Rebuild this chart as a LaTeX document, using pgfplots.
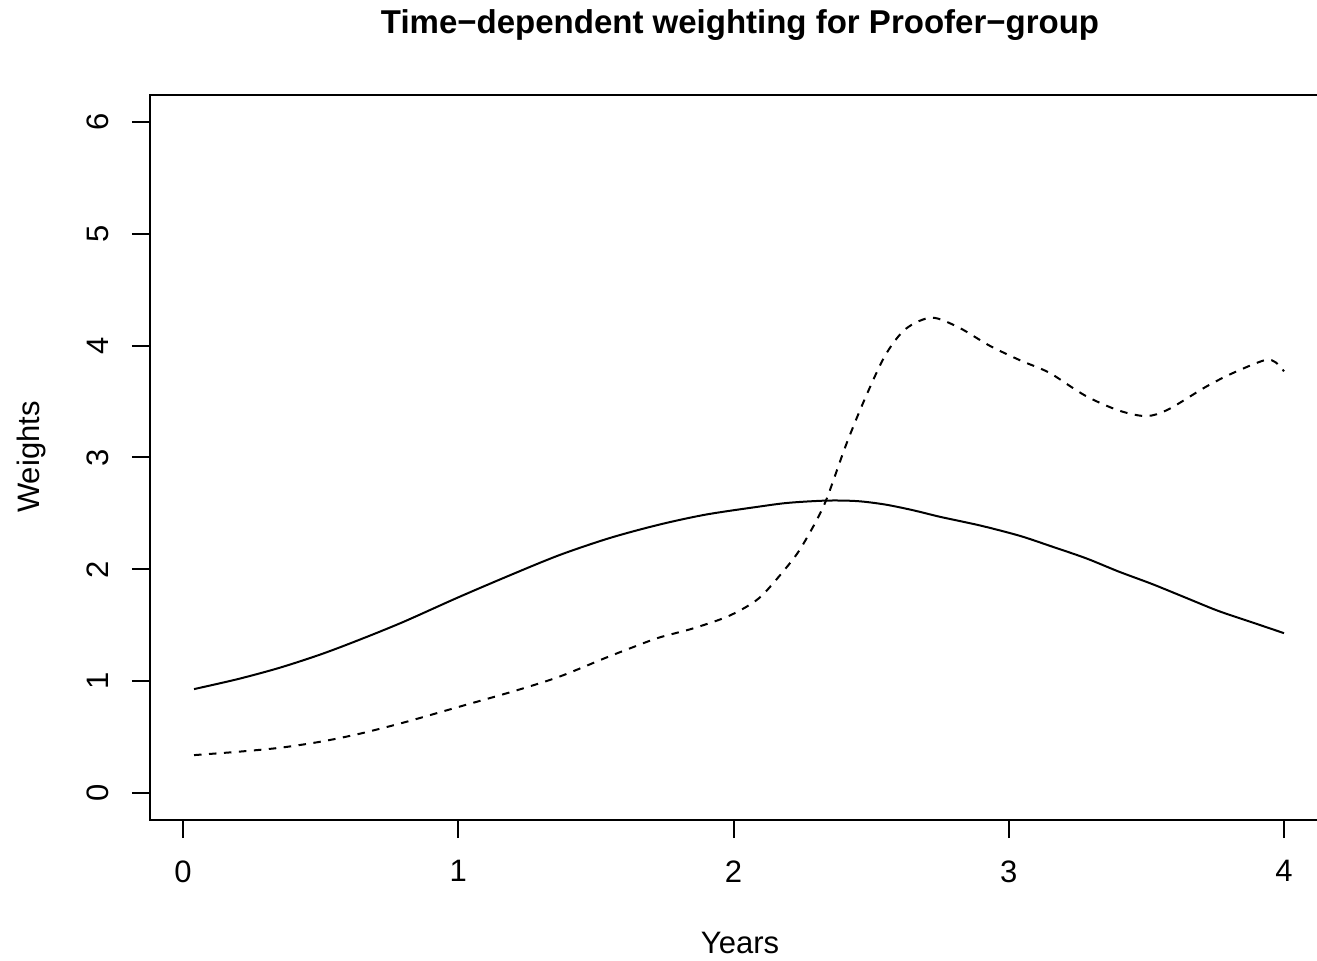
\documentclass[border=0pt]{standalone}
\usepackage{fontspec}
\setmainfont{Liberation Sans}
\usepackage{pgfplots}
\pgfplotsset{compat=1.18}
\begin{document}
\begin{tikzpicture}
\useasboundingbox (0,0) rectangle (658.5pt,480pt);
\begin{axis}[
  at={(75pt,70pt)}, anchor=south west,
  scale only axis, width=583.5pt, height=362.5pt,
  xmin=-0.12, xmax=4.12, ymin=-0.24, ymax=6.24,
  axis x line*=bottom, axis y line*=left,
  axis line style={line width=1pt, line cap=rect},
  xtick={0,1,2,3,4}, ytick={0,1,2,3,4,5,6},
  minor tick num=0,
  tick align=outside, major tick length=9pt,
  tick style={line width=1pt, black},
  /pgf/number format/assume math mode=true,
  tick label style={font=\fontsize{15.5}{18}\selectfont},
  xticklabel style={anchor=north, inner sep=0pt},
  xticklabel shift=11pt,
  yticklabel style={rotate=90, anchor=south, inner sep=0pt},
  yticklabel shift=11.5pt,
  clip=false,
]
\draw[line width=1pt, line cap=rect] (rel axis cs:0,1) -- (rel axis cs:1,1);
\addplot[black, line width=1pt, smooth] coordinates {
(0.04,0.93) (0.2,1.02) (0.35,1.12) (0.5,1.24) (0.64,1.37) (0.8,1.53)
(1.0,1.75) (1.2,1.96) (1.37,2.13) (1.55,2.28) (1.73,2.40) (1.9,2.49)
(2.09,2.56) (2.2,2.595) (2.34,2.615) (2.45,2.61) (2.55,2.58) (2.65,2.53)
(2.75,2.47) (2.9,2.39) (3.04,2.30) (3.15,2.21) (3.28,2.10) (3.4,1.98) (3.52,1.87)
(3.64,1.75) (3.76,1.63) (3.88,1.53) (4.0,1.43)
};
\addplot[black, line width=1pt, smooth, dash pattern=on 3.75pt off 3.75pt] coordinates {
(0.04,0.34) (0.2,0.37) (0.35,0.405) (0.5,0.46) (0.64,0.53) (0.8,0.63)
(1.0,0.77) (1.2,0.91) (1.366,1.04) (1.536,1.21) (1.63,1.30) (1.729,1.39)
(1.85,1.47) (1.97,1.57) (2.05,1.67) (2.105,1.77) (2.18,1.98) (2.238,2.165)
(2.30,2.43) (2.34,2.64) (2.41,3.12) (2.48,3.54) (2.553,3.92) (2.626,4.15)
(2.72,4.25) (2.82,4.16) (2.93,4.00) (3.04,3.87) (3.11,3.80) (3.16,3.74)
(3.28,3.55) (3.40,3.42) (3.50,3.37) (3.58,3.43) (3.715,3.63) (3.81,3.75)
(3.93,3.87) (3.97,3.85) (4.0,3.77)
};
\end{axis}
\node[anchor=base, font=\fontsize{16.5}{20}\selectfont\bfseries] at (370pt,463pt) {Time−dependent weighting for Proofer−group};
\node[anchor=base, font=\fontsize{15.5}{18}\selectfont] at (370pt,3.5pt) {Years};
\node[anchor=base, rotate=90, font=\fontsize{15.5}{18}\selectfont] at (19.5pt,251.5pt) {Weights};
\end{tikzpicture}
\end{document}
